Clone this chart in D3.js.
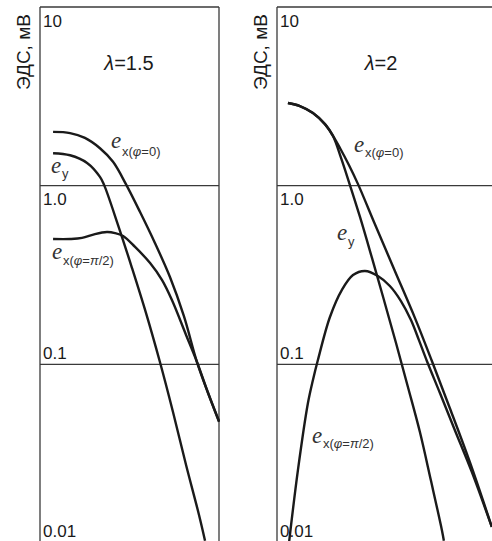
<!DOCTYPE html>
<html>
<head>
<meta charset="utf-8">
<script src="https://cdn.jsdelivr.net/npm/d3@7"></script>
<style>
  body { margin: 0; background: #fff; }
  svg { display: block; }
</style>
</head>
<body>
<svg id="chart" width="492" height="541"></svg>
<script>
// ---- data (x in relative units, y = EMF in mV) ----
const yTicks = [10, 1, 0.1, 0.01];
const yTickLabels = ['10', '1.0', '0.1', '0.01'];
const yTitle = 'ЭДС, мВ';
const lambdaLabels = ['1.5', '2'];

// λ = 1.5
const exZero15 = [[7.3, 2.00], [16.8, 1.97], [25.1, 1.85], [33.5, 1.62], [40.8, 1.36], [48.0, 1.02],
  [55.9, 0.712], [64.2, 0.478], [72.6, 0.308], [80.4, 0.186], [87.7, 0.103], [93.9, 0.0691], [100, 0.0482]];
const ey15 = [[7.3, 1.52], [16.8, 1.48], [26.3, 1.34], [33.5, 1.12], [35.8, 1.01], [43.6, 0.602],
  [51.4, 0.346], [59.2, 0.194], [67.0, 0.103], [74.3, 0.0541], [81.6, 0.0273], [88.8, 0.0144], [92.2, 0.0103]];
const exHalfPi15 = [[7.3, 0.503], [16.8, 0.503], [23.5, 0.510], [30.7, 0.536], [37.4, 0.550], [41.9, 0.543],
  [46.4, 0.523], [53.1, 0.454], [61.5, 0.369], [68.2, 0.296], [73.7, 0.229], [81.6, 0.146],
  [87.7, 0.103], [93.9, 0.0691], [100, 0.0476]];

// λ = 2
const exZero2 = [[6.1, 2.90], [12.8, 2.79], [20.1, 2.55], [26.8, 2.21], [31.3, 1.90], [35.2, 1.625],
  [40.2, 1.305], [45.3, 1.02], [54.7, 0.610], [65.9, 0.333], [77.1, 0.182], [86.6, 0.1044],
  [96.6, 0.057], [107.8, 0.0284], [120.1, 0.0123]];
const ey2 = [[6.1, 2.90], [12.8, 2.79], [20.1, 2.55], [26.8, 2.21], [31.3, 1.90], [35.8, 1.43],
  [40.2, 1.05], [46.4, 0.668], [53.1, 0.394], [59.8, 0.229], [66.5, 0.132], [73.2, 0.0747],
  [79.9, 0.0418], [86.0, 0.0225], [92.2, 0.0118], [93.3, 0.0103]];
const exHalfPi2 = [[6.7, 0.0100], [11.7, 0.0256], [17.3, 0.0608], [20.1, 0.0818], [22.9, 0.106],
  [29.6, 0.184], [36.3, 0.261], [42.5, 0.316], [49.2, 0.333], [56.4, 0.312], [63.1, 0.2745],
  [69.3, 0.226], [74.9, 0.177], [79.3, 0.137], [83.8, 0.1044], [91.1, 0.0691], [99.4, 0.0429],
  [108.9, 0.025], [120.1, 0.0123]];

const svg = d3.select('#chart');
const ink = '#1a1a1a';
const frame = '#3a3a3a';

function drawPanel(opt) {
  const x = d3.scaleLinear().domain([0, opt.xMax]).range([opt.left, opt.right]);
  const y = d3.scaleLog().domain([0.01, 10]).range([543, 7]);
  const g = svg.append('g');

  // frame + decade lines
  g.selectAll('line.h').data(yTicks).enter().append('line')
    .attr('x1', x(0)).attr('x2', x(opt.xMax))
    .attr('y1', d => y(d)).attr('y2', d => y(d))
    .attr('stroke', frame).attr('stroke-width', 1.3);
  [0, opt.xMax].forEach(v => {
    g.append('line').attr('x1', x(v)).attr('x2', x(v)).attr('y1', y(10)).attr('y2', y(0.01))
      .attr('stroke', frame).attr('stroke-width', 1.3);
  });

  // tick labels inside the frame
  const offs = [20, 19, -5, -6];
  g.selectAll('text.tick').data(yTicks).enter().append('text')
    .attr('x', x(0) + 3).attr('y', (d, i) => y(d) + offs[i])
    .attr('font-family', 'Liberation Sans, Arial, sans-serif').attr('font-size', 17)
    .attr('fill', ink).text((d, i) => yTickLabels[i]);

  // axis title
  g.append('text')
    .attr('transform', `translate(${x(0) - 10},90) rotate(-90)`)
    .attr('font-family', 'Liberation Sans, Arial, sans-serif').attr('font-size', 19)
    .attr('fill', ink).text(yTitle);

  // lambda label
  const lt = g.append('text').attr('x', opt.lambdaX).attr('y', 70).attr('text-anchor', 'middle')
    .attr('font-family', 'Liberation Sans, Arial, sans-serif').attr('font-size', 20).attr('fill', ink);
  lt.append('tspan').attr('font-style', 'italic').text('λ');
  lt.append('tspan').text('=' + opt.lambda);

  // curves
  const line = d3.line().x(d => x(d[0])).y(d => y(d[1])).curve(d3.curveCatmullRom.alpha(0.5));
  opt.series.forEach(s => {
    g.append('path').datum(s).attr('d', line)
      .attr('fill', 'none').attr('stroke', ink).attr('stroke-width', 2.4)
      .attr('stroke-linejoin', 'round');
  });

  // curve labels
  opt.labels.forEach(l => {
    g.append('text').attr('x', l.x).attr('y', l.y)
      .attr('font-family', 'Liberation Serif, Times New Roman, serif').attr('font-style', 'italic')
      .attr('font-size', 23).attr('fill', '#333').text('e');
    const st = g.append('text').attr('x', l.x + 11).attr('y', l.y + l.dy)
      .attr('font-family', 'Liberation Sans, Arial, sans-serif').attr('font-size', 13).attr('fill', '#333');
    l.sub.forEach(p => st.append('tspan').attr('font-style', p[1] ? 'italic' : 'normal').text(p[0]));
  });
}

const subZero = [['x(', 0], ['φ', 1], ['=0)', 0]];
const subHalfPi = [['x(', 0], ['φ', 1], ['=', 0], ['π', 1], ['/2)', 0]];
const subY = [['y', 0]];

drawPanel({
  left: 40, right: 219, xMax: 100, lambda: lambdaLabels[0], lambdaX: 129,
  series: [exZero15, ey15, exHalfPi15],
  labels: [
    { x: 111, y: 148, dy: 8, sub: subZero },
    { x: 51, y: 173, dy: 5, sub: subY },
    { x: 52, y: 259, dy: 6, sub: subHalfPi }
  ]
});

drawPanel({
  left: 277, right: 497, xMax: 123, lambda: lambdaLabels[1], lambdaX: 381,
  series: [exZero2, ey2, exHalfPi2],
  labels: [
    { x: 354, y: 152, dy: 5, sub: subZero },
    { x: 337, y: 240, dy: 6, sub: subY },
    { x: 312, y: 443, dy: 5, sub: subHalfPi }
  ]
});
</script>
</body>
</html>
